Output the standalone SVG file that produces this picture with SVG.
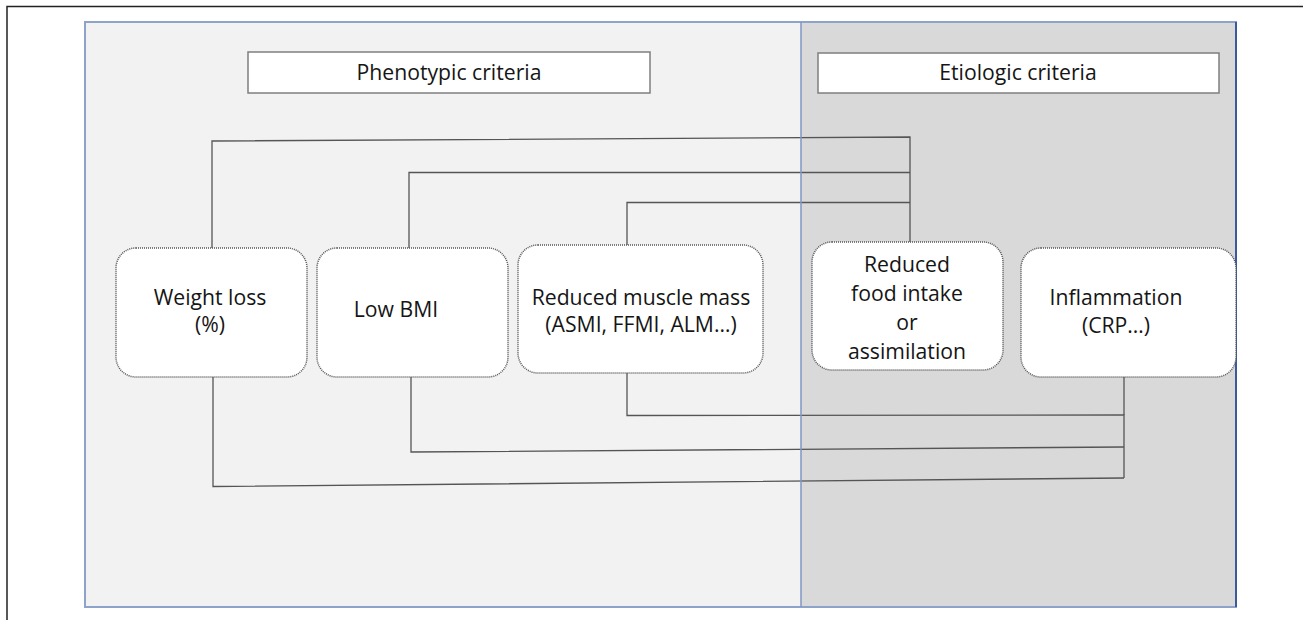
<svg xmlns="http://www.w3.org/2000/svg" width="1303" height="620" viewBox="0 0 1303 620">
<style>
  .lbl { font-family: "Open Sans", "Liberation Sans", sans-serif; font-size: 21.2px; fill: #151515; text-anchor: middle; }
  .node { fill: #ffffff; stroke: #555555; stroke-width: 1.5; stroke-dasharray: 1 1; }
  .hdr { fill: #ffffff; stroke: #7f7f7f; stroke-width: 1.5; }
  .conn { fill: none; stroke: #555555; stroke-width: 1.3; }
</style>
<rect x="0" y="0" width="1303" height="620" fill="#ffffff"/>
<g id="frame">
  <path d="M7 620 V6.5 H1303" fill="none" stroke="#222222" stroke-width="1.5"/>
</g>
<g id="panels">
  <rect x="85" y="22" width="716" height="585" fill="#f2f2f2"/>
  <rect x="801" y="22" width="435" height="585" fill="#d9d9d9"/>
  <rect x="85" y="22" width="1151" height="585" fill="none" stroke="#8ea3c9" stroke-width="2"/>
  <line x1="1236" y1="22" x2="1236" y2="607" stroke="#3a5aa0" stroke-width="2"/>
</g>
<g id="connectors">
  <path class="conn" d="M212 248 V141 L910 137 V242"/>
  <path class="conn" d="M409 248 V172.5 H910"/>
  <path class="conn" d="M627 245 V202.5 H910"/>
  <path class="conn" d="M627 373 V415.5 L1124 415 V478"/>
  <path class="conn" d="M411 377 V452 L1124 447"/>
  <path class="conn" d="M213 377 V486.5 L1124 478"/>
  <path class="conn" d="M1124 377 V415"/>
</g>
<line x1="801" y1="22" x2="801" y2="607" stroke="#7f96c4" stroke-width="1.5"/>
<g id="hdr-phenotypic">
  <rect class="hdr" x="248" y="52" width="402" height="41"/>
  <text class="lbl" x="449" y="80">Phenotypic criteria</text>
</g>
<g id="hdr-etiologic">
  <rect class="hdr" x="818" y="53" width="401" height="40"/>
  <text class="lbl" x="1018" y="80">Etiologic criteria</text>
</g>
<g id="node-weight-loss">
  <rect class="node" x="116" y="248" width="191" height="129" rx="20" ry="20"/>
  <text class="lbl" x="210" y="305">Weight loss</text>
  <text class="lbl" x="210" y="332">(%)</text>
</g>
<g id="node-low-bmi">
  <rect class="node" x="317" y="248" width="191" height="129" rx="20" ry="20"/>
  <text class="lbl" x="396" y="317">Low BMI</text>
</g>
<g id="node-muscle">
  <rect class="node" x="518" y="245" width="245" height="128" rx="20" ry="20"/>
  <text class="lbl" x="641" y="305">Reduced muscle mass</text>
  <text class="lbl" x="641" y="332">(ASMI, FFMI, ALM…)</text>
</g>
<g id="node-food">
  <rect class="node" x="812" y="242" width="191" height="128" rx="20" ry="20"/>
  <text class="lbl" x="907" y="272">Reduced</text>
  <text class="lbl" x="907" y="301">food intake</text>
  <text class="lbl" x="907" y="330">or</text>
  <text class="lbl" x="907" y="359">assimilation</text>
</g>
<g id="node-inflammation">
  <rect class="node" x="1021" y="248" width="215" height="129" rx="20" ry="20"/>
  <text class="lbl" x="1116" y="305">Inflammation</text>
  <text class="lbl" x="1116" y="333">(CRP…)</text>
</g>
</svg>
